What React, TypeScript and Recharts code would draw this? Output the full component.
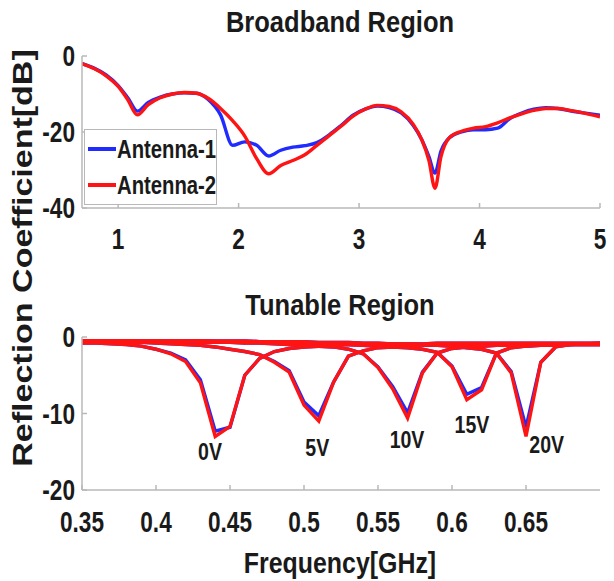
import React from 'react'
import { LineChart, ComposedChart, Line, XAxis, YAxis, ReferenceDot } from 'recharts'

// ---- broadband region ----
const bbFreq = [0.7, 0.8, 0.9, 1.0, 1.08, 1.16, 1.25, 1.35, 1.45, 1.55, 1.65, 1.75, 1.85, 1.95, 2.05, 2.15, 2.25, 2.35, 2.45, 2.55, 2.65, 2.75, 2.85, 2.95, 3.05, 3.15, 3.25, 3.35, 3.45, 3.52, 3.58, 3.63, 3.68, 3.75, 3.85, 3.95, 4.05, 4.15, 4.25, 4.35, 4.45, 4.55, 4.65, 4.75, 4.85, 5.0]
const bbAnt1 = [-2.0, -3.2, -5.0, -7.8, -11.0, -14.5, -12.2, -10.8, -10.0, -9.7, -9.8, -11.5, -15.5, -23.5, -22.6, -23.5, -26.3, -24.8, -24.0, -23.6, -22.8, -20.8, -18.3, -15.6, -14.0, -13.2, -13.6, -15.0, -18.3, -22.0, -26.5, -30.8, -25.0, -21.5, -20.0, -19.4, -19.4, -19.0, -16.5, -15.0, -14.0, -13.6, -13.8, -14.4, -14.9, -15.6]
const bbAnt2 = [-2.0, -3.3, -5.2, -8.0, -11.5, -15.5, -12.8, -11.0, -10.0, -9.6, -9.8, -11.2, -13.8, -17.0, -21.0, -27.0, -31.0, -28.8, -27.5, -26.0, -23.5, -21.0, -18.5, -15.8, -14.0, -13.0, -13.3, -14.7, -18.0, -22.0, -27.5, -34.8, -26.5, -21.5, -19.8, -19.0, -18.6, -17.6, -16.3, -15.2, -14.3, -13.8, -13.8, -14.3, -14.9, -16.0]
const bbTicksX = [1, 2, 3, 4, 5]
const bbTicksY = [-40, -20, 0]

// ---- tunable region ----
const tuFreq = [0.35, 0.36, 0.37, 0.38, 0.39, 0.4, 0.41, 0.42, 0.43, 0.44, 0.45, 0.46, 0.47, 0.48, 0.49, 0.5, 0.51, 0.52, 0.53, 0.54, 0.55, 0.56, 0.57, 0.58, 0.59, 0.6, 0.61, 0.62, 0.63, 0.64, 0.65, 0.66, 0.67, 0.68, 0.69, 0.7]
const tu0vAnt1 = [-0.8, -0.8, -0.9, -1.0, -1.2, -1.6, -2.1, -3.0, -5.6, -12.3, -11.8, -5.0, -2.8, -1.9, -1.5, -1.3, -1.2, -1.1, -1.0, -1.0, -0.9, -0.9, -0.9, -0.9, -0.8, -0.8, -0.8, -0.8, -0.8, -0.8, -0.8, -0.8, -0.8, -0.8, -0.8, -0.8]
const tu0vAnt2 = [-0.8, -0.8, -0.9, -1.0, -1.2, -1.6, -2.2, -3.2, -6.0, -13.0, -11.7, -5.0, -2.8, -1.9, -1.5, -1.3, -1.2, -1.1, -1.0, -1.0, -0.9, -0.9, -0.9, -0.9, -0.8, -0.8, -0.8, -0.8, -0.8, -0.8, -0.8, -0.8, -0.8, -0.8, -0.8, -0.8]
const tu5vAnt1 = [-0.6, -0.6, -0.6, -0.7, -0.7, -0.8, -0.9, -1.0, -1.1, -1.3, -1.6, -1.9, -2.3, -3.2, -4.4, -8.5, -10.3, -5.9, -2.5, -1.8, -1.4, -1.3, -1.2, -1.1, -1.0, -1.0, -1.0, -0.9, -0.9, -0.9, -0.9, -0.9, -0.9, -0.9, -0.9, -0.9]
const tu5vAnt2 = [-0.6, -0.6, -0.6, -0.7, -0.7, -0.8, -0.9, -1.0, -1.1, -1.3, -1.6, -1.9, -2.3, -3.3, -4.6, -8.9, -11.0, -5.9, -2.5, -1.8, -1.4, -1.3, -1.2, -1.1, -1.0, -1.0, -1.0, -0.9, -0.9, -0.9, -0.9, -0.9, -0.9, -0.9, -0.9, -0.9]
const tu10vAnt1 = [-0.5, -0.5, -0.5, -0.5, -0.6, -0.6, -0.6, -0.6, -0.7, -0.7, -0.7, -0.8, -0.8, -0.9, -1.0, -1.1, -1.2, -1.3, -1.6, -2.2, -3.9, -6.5, -9.9, -4.6, -2.1, -1.5, -1.3, -1.2, -1.1, -1.1, -1.0, -1.0, -1.0, -1.0, -1.0, -1.0]
const tu10vAnt2 = [-0.5, -0.5, -0.5, -0.5, -0.6, -0.6, -0.6, -0.6, -0.7, -0.7, -0.7, -0.8, -0.8, -0.9, -1.0, -1.1, -1.2, -1.3, -1.6, -2.2, -4.0, -6.8, -10.6, -4.7, -2.1, -1.5, -1.3, -1.2, -1.1, -1.1, -1.0, -1.0, -1.0, -1.0, -1.0, -1.0]
const tu15vAnt1 = [-0.5, -0.5, -0.5, -0.5, -0.5, -0.5, -0.5, -0.5, -0.5, -0.6, -0.6, -0.6, -0.6, -0.7, -0.7, -0.8, -0.8, -0.9, -1.0, -1.1, -1.2, -1.3, -1.4, -1.6, -2.0, -3.8, -7.5, -6.6, -2.1, -1.4, -1.2, -1.1, -1.1, -1.0, -1.0, -1.0]
const tu15vAnt2 = [-0.5, -0.5, -0.5, -0.5, -0.5, -0.5, -0.5, -0.5, -0.5, -0.6, -0.6, -0.6, -0.6, -0.7, -0.7, -0.8, -0.8, -0.9, -1.0, -1.1, -1.2, -1.3, -1.4, -1.6, -2.0, -3.9, -8.2, -6.9, -2.1, -1.4, -1.2, -1.1, -1.1, -1.0, -1.0, -1.0]
const tu20vAnt1 = [-0.5, -0.5, -0.5, -0.5, -0.5, -0.5, -0.5, -0.5, -0.5, -0.5, -0.5, -0.5, -0.6, -0.6, -0.6, -0.6, -0.7, -0.7, -0.7, -0.8, -0.8, -0.9, -0.9, -1.0, -1.1, -1.2, -1.4, -1.6, -2.1, -4.5, -11.8, -3.3, -1.3, -1.0, -0.9, -0.8]
const tu20vAnt2 = [-0.5, -0.5, -0.5, -0.5, -0.5, -0.5, -0.5, -0.5, -0.5, -0.5, -0.5, -0.5, -0.6, -0.6, -0.6, -0.6, -0.7, -0.7, -0.7, -0.8, -0.8, -0.9, -0.9, -1.0, -1.1, -1.2, -1.4, -1.6, -2.1, -4.7, -13.0, -3.3, -1.3, -1.0, -0.9, -0.8]
const tuTicksX = [0.35, 0.4, 0.45, 0.5, 0.55, 0.6, 0.65]
const tuTicksY = [-20, -10, 0]

const voltLabels = ['0V', '5V', '10V', '15V', '20V']
const voltLabelFreq = [0.4365, 0.509, 0.5696, 0.6135, 0.664]
const voltLabelDb = [-15, -14.5, -13.5, -11.5, -14.1]

const tuSeries = [
  { key: 'v0', a1: tu0vAnt1, a2: tu0vAnt2 },
  { key: 'v5', a1: tu5vAnt1, a2: tu5vAnt2 },
  { key: 'v10', a1: tu10vAnt1, a2: tu10vAnt2 },
  { key: 'v15', a1: tu15vAnt1, a2: tu15vAnt2 },
  { key: 'v20', a1: tu20vAnt1, a2: tu20vAnt2 },
]

const bbData = bbFreq.map((f, i) => ({ f, a1: bbAnt1[i], a2: bbAnt2[i] }))
const tuData = tuFreq.map((f, i) => {
  const row: any = { f }
  tuSeries.forEach(s => {
    row[`a1_${s.key}`] = s.a1[i]
    row[`a2_${s.key}`] = s.a2[i]
  })
  return row
})

const BLUE = '#1f2bff'
const RED = '#ff1414'
const BOX = '#b8b8b8'
const INK = '#1a1a1a'
const FONT = '"Liberation Sans", Arial, sans-serif'
const SQ = 0.78
const LW = 3.4

// text squeezed sideways, like the stretched original
const NarrowText = ({ x, y, children, size = 29, anchor = 'middle', dy = '0.35em', sx = SQ }: any) => (
  <g transform={`translate(${x},${y}) scale(${sx},1)`}>
    <text textAnchor={anchor} dy={dy} fontSize={size} fontWeight="bold" fontFamily={FONT} fill={INK}>
      {children}
    </text>
  </g>
)

const XTick = ({ x, y, payload }: any) => (
  <NarrowText x={x} y={y} dy="0.72em">{String(payload.value)}</NarrowText>
)
const YTick = ({ x, y, payload }: any) => (
  <NarrowText x={x} y={y} anchor="end">{String(payload.value)}</NarrowText>
)
const NoTick = () => <g />

const VoltLabel = (text: string) => (p: any) => (
  <NarrowText x={p.cx} y={p.cy} size={23} sx={0.85}>{text}</NarrowText>
)

const htmlText = (size: number): React.CSSProperties => ({
  position: 'absolute',
  fontFamily: FONT,
  fontWeight: 'bold',
  fontSize: size,
  lineHeight: `${size}px`,
  color: INK,
  whiteSpace: 'nowrap',
})

export default function App() {
  return (
    <div style={{ position: 'absolute', left: 0, top: 0, width: 614, height: 581, background: '#fff', overflow: 'hidden' }}>
      {/* broadband chart */}
      <div style={{ position: 'absolute', left: 0, top: 0 }}>
        <LineChart width={614} height={270} data={bbData} margin={{ top: 56, right: 14, bottom: 22, left: 0 }}>
          <XAxis xAxisId="b" dataKey="f" type="number" domain={[0.7, 5]} ticks={bbTicksX} allowDataOverflow
            height={40} tickSize={-5} tickMargin={25} tick={<XTick />} stroke={BOX} strokeWidth={1.5} />
          <XAxis xAxisId="t" orientation="top" dataKey="f" type="number" domain={[0.7, 5]} ticks={bbTicksX}
            height={0} tickSize={-5} tick={<NoTick />} stroke={BOX} strokeWidth={1.5} />
          <YAxis yAxisId="l" type="number" domain={[-40, 0]} ticks={bbTicksY} allowDataOverflow
            width={82} tickSize={-5} tickMargin={12} tick={<YTick />} stroke={BOX} strokeWidth={1.5} />
          <YAxis yAxisId="r" orientation="right" type="number" domain={[-40, 0]} ticks={bbTicksY}
            width={0} tickSize={-5} tick={<NoTick />} stroke={BOX} strokeWidth={1.5} />
          <Line xAxisId="b" yAxisId="l" type="monotone" dataKey="a1" stroke={BLUE} strokeWidth={LW}
            dot={false} isAnimationActive={false} />
          <Line xAxisId="b" yAxisId="l" type="monotone" dataKey="a2" stroke={RED} strokeWidth={LW}
            dot={false} isAnimationActive={false} />
        </LineChart>
      </div>

      {/* tunable chart */}
      <div style={{ position: 'absolute', left: 0, top: 280 }}>
        <ComposedChart width={614} height={280} data={tuData} margin={{ top: 57, right: 14, bottom: 40, left: 0 }}>
          <XAxis xAxisId="b" dataKey="f" type="number" domain={[0.35, 0.7]} ticks={tuTicksX} allowDataOverflow
            height={30} tickSize={-5} tickMargin={26} tick={<XTick />} stroke={BOX} strokeWidth={1.5} />
          <XAxis xAxisId="t" orientation="top" dataKey="f" type="number" domain={[0.35, 0.7]} ticks={tuTicksX}
            height={0} tickSize={-5} tick={<NoTick />} stroke={BOX} strokeWidth={1.5} />
          <YAxis yAxisId="l" type="number" domain={[-20, 0]} ticks={tuTicksY} allowDataOverflow
            width={82} tickSize={-5} tickMargin={12} tick={<YTick />} stroke={BOX} strokeWidth={1.5} />
          <YAxis yAxisId="r" orientation="right" type="number" domain={[-20, 0]} ticks={tuTicksY}
            width={0} tickSize={-5} tick={<NoTick />} stroke={BOX} strokeWidth={1.5} />
          {tuSeries.map(s => (
            <Line key={`a1_${s.key}`} xAxisId="b" yAxisId="l" type="linear" dataKey={`a1_${s.key}`}
              stroke={BLUE} strokeWidth={LW} dot={false} isAnimationActive={false} />
          ))}
          {tuSeries.map(s => (
            <Line key={`a2_${s.key}`} xAxisId="b" yAxisId="l" type="linear" dataKey={`a2_${s.key}`}
              stroke={RED} strokeWidth={LW} dot={false} isAnimationActive={false} />
          ))}
          {voltLabels.map((v, i) => (
            <ReferenceDot key={v} xAxisId="b" yAxisId="l" x={voltLabelFreq[i]} y={voltLabelDb[i]} r={0}
              shape={VoltLabel(v)} />
          ))}
        </ComposedChart>
      </div>

      {/* legend */}
      <div style={{ position: 'absolute', left: 84, top: 129, width: 133, height: 76, background: '#fff', border: `1.5px solid ${BOX}`, boxSizing: 'border-box' }}>
        {[{ c: BLUE, t: 'Antenna-1', y: 19 }, { c: RED, t: 'Antenna-2', y: 55 }].map(it => (
          <React.Fragment key={it.t}>
            <div style={{ position: 'absolute', left: 3, top: it.y - 2, width: 28, height: 4, background: it.c }} />
            <div style={{ ...htmlText(26), left: 32, top: it.y - 13, transform: `scaleX(${SQ})`, transformOrigin: 'left center' }}>{it.t}</div>
          </React.Fragment>
        ))}
      </div>

      {/* titles & axis labels */}
      <div style={{ ...htmlText(30), left: 340, top: 22 - 15, transform: 'translateX(-50%) scaleX(0.85)' }}>Broadband Region</div>
      <div style={{ ...htmlText(30), left: 340, top: 305 - 15, transform: 'translateX(-50%) scaleX(0.85)' }}>Tunable Region</div>
      <div style={{ ...htmlText(30), left: 340, top: 563 - 15, transform: 'translateX(-50%) scaleX(0.83)' }}>Frequency[GHz]</div>
      <div style={{ ...htmlText(34), left: 22, top: 258, transform: 'translate(-50%, -50%) rotate(-90deg) scaleY(0.84)' }}>Reflection Coefficient[dB]</div>
    </div>
  )
}
